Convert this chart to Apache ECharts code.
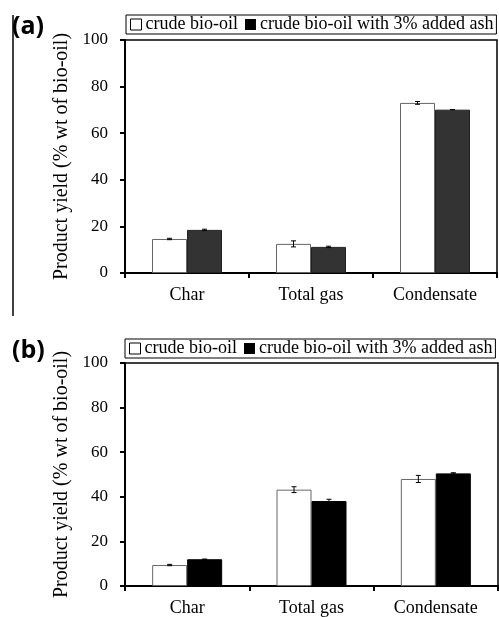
<!DOCTYPE html>
<html>
<head>
<meta charset="utf-8">
<script src="https://cdn.jsdelivr.net/npm/echarts@6/dist/echarts.min.js"></script>
<style>
  html, body { margin: 0; padding: 0; background: #fff; }
  #chart { width: 499px; height: 617px; }
</style>
</head>
<body>
<div id="chart"></div>
<script>
"use strict";

var categories = ['Char', 'Total gas', 'Condensate'];
var seriesNames = ['crude bio-oil', 'crude bio-oil with 3% added ash'];

// panel (a)
var crudeA = [14.6, 12.5, 73.0];
var crudeAErr = [0.3, 1.3, 0.6];
var ashA = [18.5, 11.2, 70.1];
var ashAErr = [0.3, 0.3, 0];

// panel (b)
var crudeB = [9.4, 43.2, 48.0];
var crudeBErr = [0.3, 1.3, 1.6];
var ashB = [12.0, 38.1, 50.5];
var ashBErr = [0, 0.8, 0.3];

var yMin = 0, yMax = 100, yStep = 20;
var yTitle = 'Product yield (% wt of bio-oil)';

var serif = 'Liberation Serif';
var BAR_W = 35;

var dom = document.getElementById('chart');
var myChart = echarts.init(dom);

function errData(vals, errs) {
    var out = [];
    for (var i = 0; i < vals.length; i++) {
        out.push([i, vals[i], errs[i]]);
    }
    return out;
}

function errRender(offset) {
    return function (params, api) {
        var x = api.coord([api.value(0), 0])[0] + offset;
        var v = api.value(1), e = api.value(2);
        var hi = api.coord([api.value(0), v + e])[1];
        var lo = api.coord([api.value(0), v - e])[1];
        var st = { stroke: '#000', lineWidth: 1 };
        return {
            type: 'group',
            children: [
                { type: 'line', shape: { x1: x, y1: hi, x2: x, y2: lo }, style: st },
                { type: 'line', shape: { x1: x - 2.5, y1: hi, x2: x + 2.5, y2: hi }, style: st },
                { type: 'line', shape: { x1: x - 2.5, y1: lo, x2: x + 2.5, y2: lo }, style: st }
            ]
        };
    };
}

function makeLegend(top, left) {
    return {
        top: top,
        left: left,
        orient: 'horizontal',
        icon: 'rect',
        itemWidth: 11,
        itemHeight: 11,
        itemGap: 7,
        padding: [0, 3, 0, 4],
        borderColor: '#000',
        borderWidth: 1,
        backgroundColor: '#fff',
        selectedMode: false,
        textStyle: { fontFamily: serif, fontSize: 18, color: '#000', lineHeight: 19, padding: [0, 0, 0, -1] },
        data: [
            { name: seriesNames[0], itemStyle: { color: '#fff', borderColor: '#000', borderWidth: 1 } },
            { name: seriesNames[1], itemStyle: { color: '#000', borderWidth: 0 } }
        ]
    };
}

function makeX(idx) {
    return {
        type: 'category',
        gridIndex: idx,
        data: categories,
        axisLine: { lineStyle: { color: '#000', width: 2 } },
        axisTick: { show: true, length: 5, lineStyle: { color: '#000', width: 2 } },
        axisLabel: { color: '#000', fontFamily: serif, fontSize: 18, margin: 13 },
        splitLine: { show: false }
    };
}

function makeY(idx) {
    return {
        type: 'value',
        gridIndex: idx,
        min: yMin,
        max: yMax,
        interval: yStep,
        name: yTitle,
        nameLocation: 'middle',
        nameRotate: 90,
        nameGap: 47,
        nameTextStyle: { color: '#000', fontFamily: serif, fontSize: 20 },
        axisLine: { show: true, lineStyle: { color: '#000', width: 2 } },
        axisTick: { show: true, length: 5, lineStyle: { color: '#000', width: 2 } },
        axisLabel: { color: '#000', fontFamily: serif, fontSize: 17, margin: 17 },
        splitLine: { show: false }
    };
}

function barSeries(name, idx, data, color, border) {
    return {
        name: name,
        type: 'bar',
        xAxisIndex: idx,
        yAxisIndex: idx,
        data: data,
        barWidth: BAR_W,
        barGap: '0%',
        itemStyle: { color: color, borderColor: border, borderWidth: 1 },
        emphasis: { disabled: true }
    };
}

function errSeries(idx, vals, errs, offset) {
    return {
        type: 'custom',
        xAxisIndex: idx,
        yAxisIndex: idx,
        z: 5,
        silent: true,
        renderItem: errRender(offset),
        encode: { x: 0, y: 1 },
        data: errData(vals, errs)
    };
}

var option = {
    animation: false,
    backgroundColor: '#fff',
    grid: [
        { left: 125, right: 2, top: 40, height: 233, show: true, borderColor: '#000', borderWidth: 1.5, backgroundColor: 'transparent' },
        { left: 125, right: 1, top: 363, height: 227, show: true, borderColor: '#000', borderWidth: 1.5, backgroundColor: 'transparent' }
    ],
    legend: [makeLegend(15, 126), makeLegend(339, 125)],
    xAxis: [makeX(0), makeX(1)],
    yAxis: [makeY(0), makeY(1)],
    series: [
        barSeries(seriesNames[0], 0, crudeA, '#fff', '#666'),
        barSeries(seriesNames[1], 0, ashA, '#333', '#222'),
        errSeries(0, crudeA, crudeAErr, -BAR_W / 2),
        errSeries(0, ashA, ashAErr, BAR_W / 2),
        barSeries(seriesNames[0], 1, crudeB, '#fff', '#666'),
        barSeries(seriesNames[1], 1, ashB, '#000', '#000'),
        errSeries(1, crudeB, crudeBErr, -BAR_W / 2),
        errSeries(1, ashB, ashBErr, BAR_W / 2)
    ],
    graphic: [
        { type: 'text', left: 12, top: 14, style: { text: '(a)', font: 'bold 25px "Open Sans"', fill: '#000' } },
        { type: 'text', left: 12, top: 338, style: { text: '(b)', font: 'bold 25px "Open Sans"', fill: '#000' } },
        { type: 'line', shape: { x1: 13, y1: 15, x2: 13, y2: 316 }, style: { stroke: '#000', lineWidth: 1.5 } }
    ]
};

if (option && typeof option === "object") {
    myChart.setOption(option, true);
}
</script>
</body>
</html>
